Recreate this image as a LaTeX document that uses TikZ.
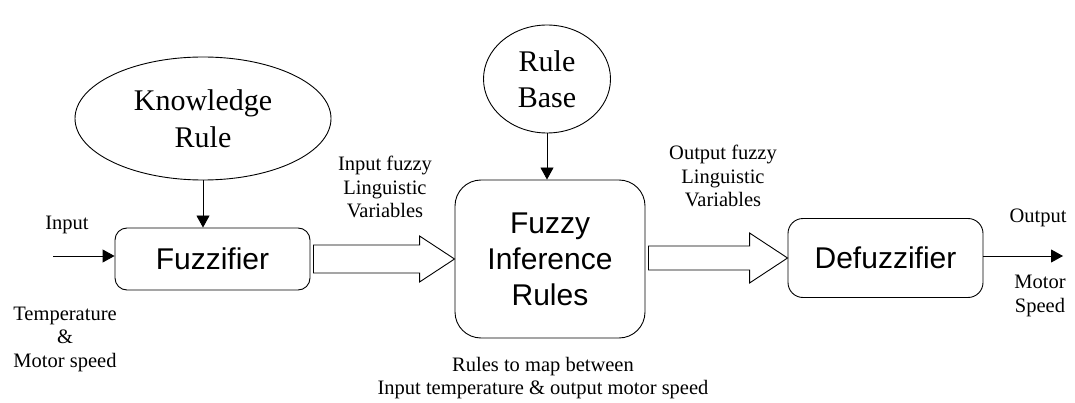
\documentclass[tikz,border=0pt]{standalone}
\usepackage{fontspec}
\setmainfont{Liberation Serif}
\newfontfamily\boxfont{Liberation Sans}
\usetikzlibrary{shapes.geometric,arrows.meta,calc}
\begin{document}
\begin{tikzpicture}[x=1pt,y=-1pt,
  line width=0.9pt,
  block/.style={draw,rectangle,inner sep=0pt,font=\boxfont\fontsize{30}{36}\selectfont,align=center},
  bubble/.style={draw,ellipse,inner sep=0pt,font=\fontsize{30}{36.5}\selectfont,align=center},
  lbl/.style={font=\fontsize{20.5}{23.5}\selectfont,align=center,inner sep=0pt},
  tip/.style={-{Triangle[length=12pt,width=13pt]}},
  fat/.style={draw,line width=0.9pt,line join=miter}]
\useasboundingbox (0,0) rectangle (1075,403);

% main processing blocks
\node[block,rounded corners=12pt,minimum width=195pt,minimum height=62pt] (fuzz) at (212.5,259) {Fuzzifier};
\node[block,rounded corners=26pt,minimum width=190pt,minimum height=158pt] (fir) at (550,259) {Fuzzy\\Inference\\Rules};
\node[block,rounded corners=15pt,minimum width=195pt,minimum height=79pt] (defuzz) at (885.5,258) {Defuzzifier};

% knowledge sources
\node[bubble,minimum width=256pt,minimum height=123pt] (know) at (203,118.5) {Knowledge\\Rule};
\node[bubble,minimum width=127pt,minimum height=108pt] (base) at (547,79) {Rule\\Base};

\draw[tip] (know) -- (fuzz.north -| know);
\draw[tip] (base) -- (fir.north -| base);

% input and output
\coordinate (in) at (53,256);
\coordinate (out) at (1063,256);
\draw[tip] (in) -- (in -| fuzz.west);
\draw[tip] (defuzz.east |- out) -- (out);

% hollow block arrows between the stages
\draw[fat] ($(fuzz.east)+(3,-14)$) -- ($(fir.west)+(-35,-14)$) -- ($(fir.west)+(-35,-23)$)
  -- (fir.west) -- ($(fir.west)+(-35,23)$) -- ($(fir.west)+(-35,14)$) -- ($(fuzz.east)+(3,14)$) -- cycle;
\draw[fat] ($(fir.east |- defuzz.west)+(3,-12)$) -- ($(defuzz.west)+(-38,-12)$) -- ($(defuzz.west)+(-38,-25)$)
  -- (defuzz.west) -- ($(defuzz.west)+(-38,25)$) -- ($(defuzz.west)+(-38,12)$) -- ($(fir.east |- defuzz.west)+(3,12)$) -- cycle;

% labels
\node[lbl] (linput) at (67,225) {Input};
\node[lbl] (ltemp) at (65,339) {Temperature\\\&\\Motor speed};
\node[lbl] (lifv) at (385,187) {Input fuzzy\\Linguistic\\Variables};
\node[lbl] (lofv) at (723,176) {Output fuzzy\\Linguistic\\Variables};
\node[lbl] (lmap) at (543,378) {Rules to map between\\Input temperature \& output motor speed};
\node[lbl] (lout) at (1038,218) {Output};
\node[lbl] (lspeed) at (1040,296) {Motor\\Speed};
\end{tikzpicture}
\end{document}
